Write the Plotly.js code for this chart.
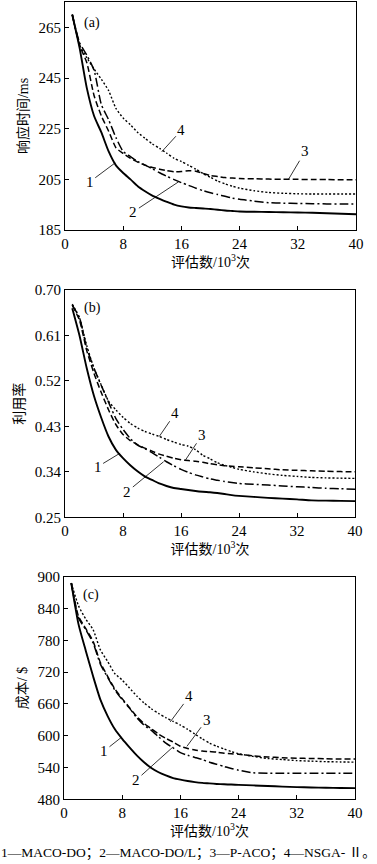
<!DOCTYPE html>
<html>
<head>
<meta charset="utf-8">
<script src="https://cdn.plot.ly/plotly-3.0.1.min.js"></script>
<style>html,body{margin:0;padding:0;background:#fff;}#chart{width:377px;height:864px;}</style>
</head>
<body>
<div id="chart"></div>
<script>
// evaluation count (10^3)
const evals = [1,2,3,4,5,6,7,8,9,10,11,12,13,14,15,16,17,18,19,20,21,22,23,24,26,28,30,32,34,36,38,40];

// (a) response time / ms
const rtMacoDo   = [270,257,241,230,223.5,216,210.5,207.5,205,202.3,200.3,198.6,197.3,196.1,195,194.3,193.9,193.7,193.5,193.3,193,192.7,192.5,192.3,192.2,192.1,192,191.9,191.8,191.6,191.4,191.2];
const rtMacoDoL  = [270,259,254,248,234.5,228.5,221.5,216,214,212,210.6,209.2,207.6,206.2,204.9,203.7,202.6,201.5,200.5,199.7,199,198.3,197.6,197.1,196.4,195.8,195.6,195.5,195.4,195.3,195.3,195.3];
const rtPAco     = [270,258,251,238,230,224,217.5,215.2,213.3,211.8,210.6,209.7,209,208.4,208,208.1,208.4,208.2,207.3,206.5,206.1,205.7,205.5,205.3,205.2,205.1,205,205,204.9,204.9,204.8,204.8];
const rtNsga     = [270,258,253,248.5,244.5,240,233,229.2,226.5,223.5,221.2,219,217.2,215.3,213.3,212,210.5,209,207.2,205.8,204.3,203.2,202.3,201.5,200.5,199.8,199.5,199.3,199.2,199.2,199.2,199.2];

// (b) utilization
const utMacoDo   = [0.664,0.61,0.545,0.49,0.447,0.41,0.384,0.367,0.353,0.341,0.331,0.324,0.317,0.312,0.308,0.306,0.304,0.302,0.3005,0.2995,0.298,0.296,0.294,0.2925,0.2905,0.2885,0.287,0.2855,0.2835,0.283,0.2825,0.282];
const utMacoDoL  = [0.67,0.645,0.585,0.545,0.511,0.478,0.446,0.424,0.406,0.393,0.386,0.378,0.369,0.36,0.352,0.345,0.339,0.334,0.33,0.326,0.3235,0.321,0.319,0.317,0.3155,0.314,0.312,0.3105,0.309,0.3075,0.3065,0.3055];
const utPAco     = [0.67,0.64,0.58,0.535,0.497,0.463,0.434,0.414,0.402,0.394,0.387,0.381,0.375,0.371,0.367,0.364,0.3625,0.361,0.359,0.356,0.354,0.352,0.351,0.35,0.348,0.346,0.344,0.343,0.342,0.341,0.3405,0.34];
const utNsga     = [0.672,0.645,0.59,0.545,0.512,0.48,0.463,0.448,0.436,0.427,0.42,0.415,0.41,0.404,0.399,0.394,0.391,0.384,0.373,0.366,0.358,0.353,0.349,0.345,0.34,0.336,0.333,0.331,0.329,0.328,0.3275,0.327];

// (c) cost / $
const costMacoDo  = [888,810,760,712,668,637,612,594,578,563,550,539,531,525,520,517,514.5,512.5,511,510,509,508.3,507.8,507.3,506.2,505,504,503,502.3,501.8,501.3,501];
const costMacoDoL = [888,822,800,775,735,710,686,668,652,634,620,610,598,586,577,568,563,559,555,550,546,542,538,535,530,529,529,529,529,529,529,529];
const costPAco    = [888,825,802,778,738,712,688,670,653,636,623,613,603,595,588,580,576,573,571,570,569,567,566,565,562,560,558.5,557.5,557,556.5,556,556];
const costNsga    = [888,845,820,800,762,740,717,705,690,675,662,651,642,634,627,620,612,603,594,586,580,575,570,566,561,557,555,553,552,551,550.5,550];

const xTicks = [0,8,16,24,32,40];
const rtTicks = [185,205,225,245,265];
const utTicks = [0.25,0.34,0.43,0.52,0.61,0.70];
const utTickText = ['0.25','0.34','0.43','0.52','0.61','0.70'];
const costTicks = [480,540,600,660,720,780,840,900];

const seriesNames = ['MACO-DO','MACO-DO/L','P-ACO','NSGA-Ⅱ'];
const styles = [
  {dash:'solid', width:1.9},
  {dash:'9px,3px,2px,3px', width:1.5},
  {dash:'6px,3px', width:1.5},
  {dash:'2px,2px', width:1.4}
];

const serif = '"Liberation Serif", "Times New Roman", "Noto Sans CJK SC", serif';
const cjk = '"Liberation Serif", "Noto Sans CJK SC", serif';

const panels = [
  {xa:'x', ya:'y', data:[rtMacoDo,rtMacoDoL,rtPAco,rtNsga]},
  {xa:'x2', ya:'y2', data:[utMacoDo,utMacoDoL,utPAco,utNsga]},
  {xa:'x3', ya:'y3', data:[costMacoDo,costMacoDoL,costPAco,costNsga]}
];

const traces = [];
panels.forEach(p => {
  p.data.forEach((vals, i) => {
    traces.push({
      x: evals, y: vals, xaxis: p.xa, yaxis: p.ya, type:'scatter', mode:'lines',
      name: seriesNames[i], showlegend:false, hoverinfo:'skip',
      line:{color:'#000', width:styles[i].width, dash:styles[i].dash, shape:'spline', smoothing:0.6}
    });
  });
});

function xAxis(domain, anchor) {
  return {
    domain: domain, anchor: anchor, range:[0,40], tickvals: xTicks,
    showline:true, mirror:true, linecolor:'#000', linewidth:1,
    ticks:'inside', ticklen:4, tickcolor:'#000', showgrid:false, zeroline:false,
    tickfont:{family:serif, size:15, color:'#000'},
    title:{text:'评估数/10<sup>3</sup>次', font:{family:cjk, size:14, color:'#000'}, standoff:4},
    automargin:false
  };
}
function yAxis(domain, anchor, range, tickvals, ticktext, title) {
  const a = {
    domain: domain, anchor: anchor, range: range, tickvals: tickvals,
    showline:true, mirror:true, linecolor:'#000', linewidth:1,
    ticks:'inside', ticklen:4, tickcolor:'#000', showgrid:false, zeroline:false,
    tickfont:{family:serif, size:15, color:'#000'},
    title:{text:title, font:{family:cjk, size:14, color:'#000'}, standoff:6},
    automargin:false
  };
  if (ticktext) a.ticktext = ticktext;
  return a;
}

function lbl(xref, yref, txt, tx, ty, hx, hy) {
  return {xref:xref, yref:yref, axref:xref, ayref:yref, x:hx, y:hy, ax:tx, ay:ty,
    text:txt, showarrow:true, arrowhead:0, arrowwidth:0.8, arrowcolor:'#000', standoff:0,
    font:{family:serif, size:15, color:'#000'}};
}

const annotations = [
  {xref:'x domain', yref:'y domain', x:0.057, y:0.95, text:'(a)', showarrow:false, font:{family:serif, size:14, color:'#000'}},
  {xref:'x2 domain', yref:'y2 domain', x:0.057, y:0.963, text:'(b)', showarrow:false, font:{family:serif, size:14, color:'#000'}},
  {xref:'x3 domain', yref:'y3 domain', x:0.057, y:0.963, text:'(c)', showarrow:false, font:{family:serif, size:14, color:'#000'}},
  // panel a
  lbl('x','y','1', 3.4, 204, 6.9, 211.5),
  lbl('x','y','2', 9.4, 192.2, 15.6, 204),
  lbl('x','y','3', 33, 216, 30.7, 204.9),
  lbl('x','y','4', 16, 224.4, 13.3, 215.9),
  // panel b
  lbl('x2','y2','1', 4.5, 0.35, 7.6, 0.377),
  lbl('x2','y2','2', 8.6, 0.301, 13.6, 0.36),
  lbl('x2','y2','3', 18.9, 0.413, 16.6, 0.363),
  lbl('x2','y2','4', 15.2, 0.456, 13, 0.41),
  // panel c
  lbl('x3','y3','1', 5.5, 571, 7.9, 597),
  lbl('x3','y3','2', 9.9, 516, 15, 579),
  lbl('x3','y3','3', 19.6, 630, 16.9, 580),
  lbl('x3','y3','4', 17.2, 674, 14.6, 626),
  // caption
  {xref:'paper', yref:'paper', x:0.5, y:1 - 853/864, xanchor:'center', yanchor:'middle', showarrow:false,
   text:'1—MACO-DO；2—MACO-DO/L；3—P-ACO；4—NSGA- Ⅱ。', font:{family:cjk, size:13.5, color:'#000'}}
];

const layout = {
  width:377, height:864, margin:{l:0,r:0,t:0,b:0}, paper_bgcolor:'#fff', plot_bgcolor:'#fff',
  showlegend:false,
  xaxis: xAxis([65/377, 356/377], 'y'),
  yaxis: yAxis([1-230/864, 1-2/864], 'x', [185,275], rtTicks, null, '响应时间/ms'),
  xaxis2: xAxis([65/377, 355/377], 'y2'),
  yaxis2: yAxis([1-517.3/864, 1-290/864], 'x2', [0.25,0.70], utTicks, utTickText, '利用率'),
  xaxis3: xAxis([64/377, 355/377], 'y3'),
  yaxis3: yAxis([1-799.3/864, 1-576.7/864], 'x3', [480,900], costTicks, null, '成本/ $'),
  annotations: annotations
};

Plotly.newPlot('chart', traces, layout, {staticPlot:true, displayModeBar:false});
</script>
</body>
</html>
